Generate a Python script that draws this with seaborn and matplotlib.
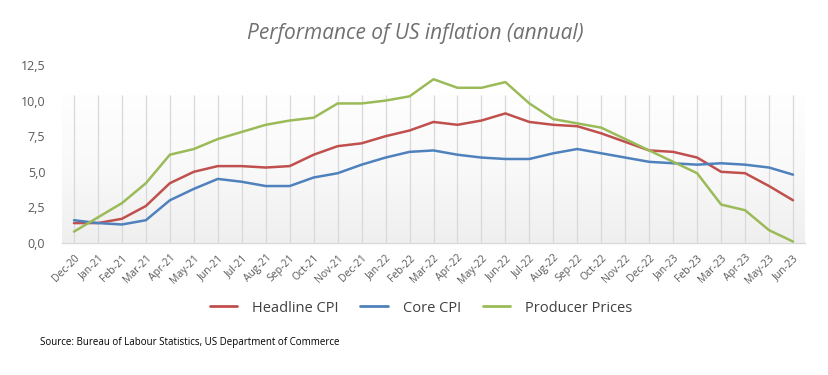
import numpy as np
import pandas as pd
import matplotlib
matplotlib.use("Agg")
import matplotlib.pyplot as plt
import seaborn as sns
from matplotlib.colors import LinearSegmentedColormap
from matplotlib.lines import Line2D

months = ["Dec-20", "Jan-21", "Feb-21", "Mar-21", "Apr-21", "May-21", "Jun-21", "Jul-21",
          "Aug-21", "Sep-21", "Oct-21", "Nov-21", "Dec-21", "Jan-22", "Feb-22", "Mar-22",
          "Apr-22", "May-22", "Jun-22", "Jul-22", "Aug-22", "Sep-22", "Oct-22", "Nov-22",
          "Dec-22", "Jan-23", "Feb-23", "Mar-23", "Apr-23", "May-23", "Jun-23"]
headline_cpi = [1.4, 1.4, 1.7, 2.6, 4.2, 5.0, 5.4, 5.4, 5.3, 5.4, 6.2, 6.8, 7.0, 7.5, 7.9, 8.5,
                8.3, 8.6, 9.1, 8.5, 8.3, 8.2, 7.7, 7.1, 6.5, 6.4, 6.0, 5.0, 4.9, 4.0, 3.0]
core_cpi = [1.6, 1.4, 1.3, 1.6, 3.0, 3.8, 4.5, 4.3, 4.0, 4.0, 4.6, 4.9, 5.5, 6.0, 6.4, 6.5,
            6.2, 6.0, 5.9, 5.9, 6.3, 6.6, 6.3, 6.0, 5.7, 5.6, 5.5, 5.6, 5.5, 5.3, 4.8]
producer_prices = [0.8, 1.8, 2.8, 4.2, 6.2, 6.6, 7.3, 7.8, 8.3, 8.6, 8.8, 9.8, 9.8, 10.0, 10.3, 11.5,
                   10.9, 10.9, 11.3, 9.8, 8.7, 8.4, 8.1, 7.3, 6.5, 5.7, 4.9, 2.7, 2.3, 0.9, 0.1]
series_names = ["Headline CPI", "Core CPI", "Producer Prices"]
y_ticks = [0.0, 2.5, 5.0, 7.5, 10.0, 12.5]
y_tick_labels = ["0,0", "2,5", "5,0", "7,5", "10,0", "12,5"]
title = "Performance of US inflation (annual)"
source = "Source: Bureau of Labour Statistics, US Department of Commerce"

sns.set_theme(style="white")
plt.rcParams["font.family"] = ["Open Sans", "DejaVu Sans"]

rows = []
for name, vals in zip(series_names, [headline_cpi, core_cpi, producer_prices]):
    for i, v in enumerate(vals):
        rows.append({"pos": i, "month": months[i], "value": v, "series": name})
df = pd.DataFrame(rows)

palette = {"Headline CPI": "#C0504D", "Core CPI": "#4F81BD", "Producer Prices": "#9BBB59"}

fig = plt.figure(figsize=(8.29, 3.75), dpi=100)
fig.patch.set_facecolor("white")
ax = fig.add_axes([62 / 829, 1 - 243 / 375, (805 - 62) / 829, (243 - 65) / 375])
ax.set_facecolor("white")

ax.set_xlim(-0.5, len(months) - 0.5)
ax.set_ylim(0, 12.5)

# inner plot-area background: very light gradient, white at top -> light gray at bottom
area_top = 0.83
cmap = LinearSegmentedColormap.from_list("bg", ["#fefefe", "#f9f9f9", "#efefef"], N=256)
grad = np.linspace(0, 1, 256).reshape(-1, 1)
ax.imshow(grad, cmap=cmap, aspect="auto", extent=[0, 1, 0, area_top], transform=ax.transAxes,
          zorder=0, interpolation="bicubic", vmin=0, vmax=1)

# vertical gridlines inside the plot area
ax.vlines(range(len(months)), 0, area_top, transform=ax.get_xaxis_transform(),
          colors="#d9d9d9", linewidth=0.9, zorder=1)

sns.lineplot(data=df, x="pos", y="value", hue="series", palette=palette, ax=ax,
             linewidth=1.8, legend=False, zorder=3, sort=False)

ax.set_xlim(-0.5, len(months) - 0.5)
ax.set_ylim(0, 12.5)
ax.set_xticks(range(len(months)))
ax.set_xticklabels(months, rotation=45, ha="right", rotation_mode="anchor",
                   fontsize=7.5, color="#595959")
ax.set_xticks(np.arange(-0.5, len(months), 1.0), minor=True)
ax.set_yticks(y_ticks)
ax.set_yticklabels(y_tick_labels, fontsize=9, color="#595959")
ax.tick_params(axis="x", which="major", length=3, color="#d9d9d9", width=0.8, pad=4)
ax.tick_params(axis="x", which="minor", length=4, color="#d9d9d9", width=0.8)
ax.tick_params(axis="y", length=0, pad=12)
ax.grid(False)
ax.set_xlabel("")
ax.set_ylabel("")
for s in ["top", "right", "left"]:
    ax.spines[s].set_visible(False)
ax.spines["bottom"].set_color("#d9d9d9")
ax.spines["bottom"].set_linewidth(1.0)

fig.text(415 / 829, 1 - 33 / 375, title, ha="center", va="center", fontsize=15,
         style="italic", color="#707070")

handles = [Line2D([0], [0], color=palette[n], linewidth=2) for n in series_names]
fig.legend(handles, series_names, loc="center", bbox_to_anchor=(421 / 829, 1 - 308 / 375),
           ncol=3, frameon=False, fontsize=10.5, handlelength=1.9, handletextpad=1.0,
           columnspacing=1.5, labelcolor="#404040")

fig.text(40 / 829, 1 - 342 / 375, source, ha="left", va="center", fontsize=7, color="black")

fig.savefig("out.png", dpi=100, facecolor="white")
